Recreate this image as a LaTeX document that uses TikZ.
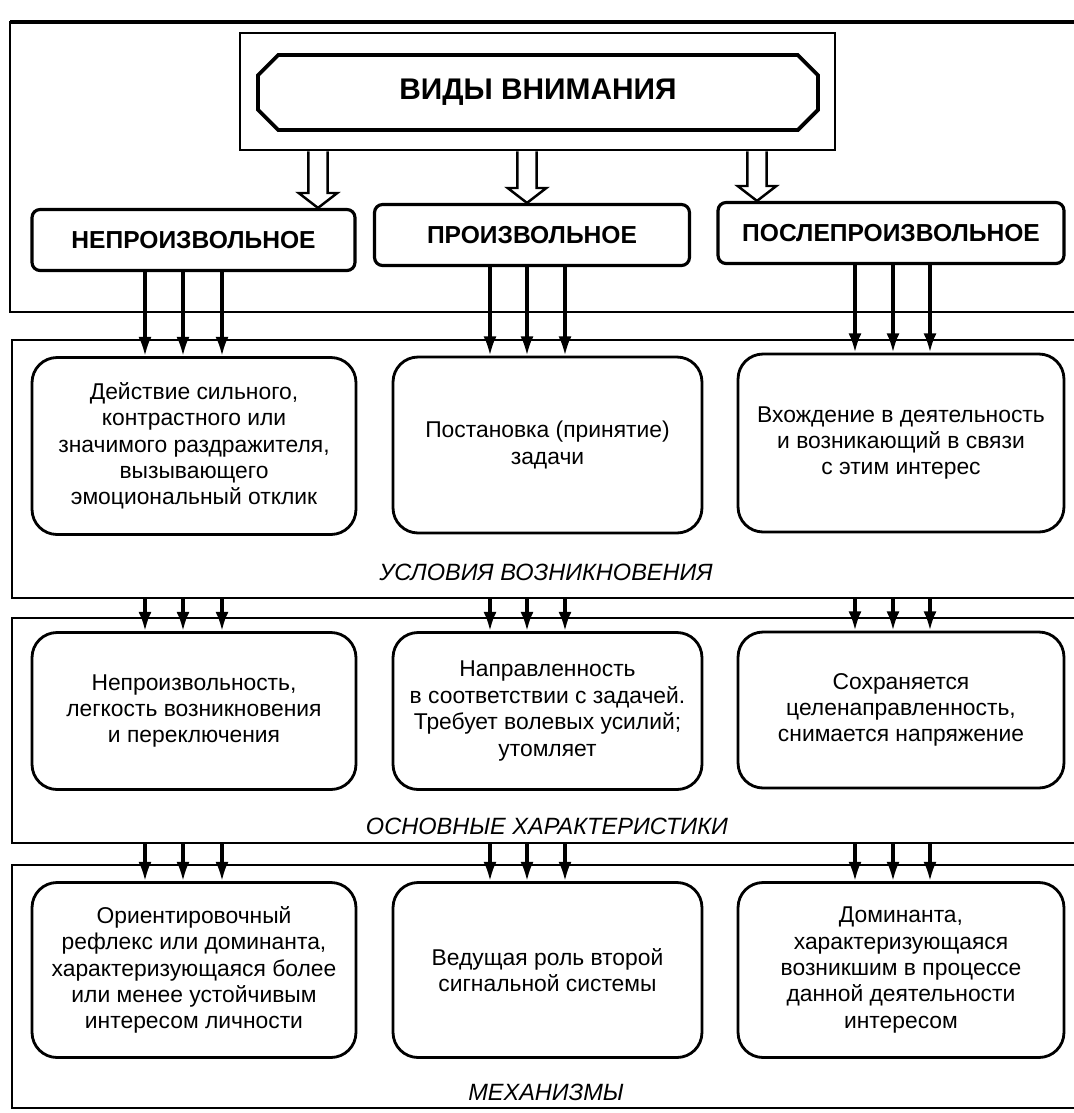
\documentclass[tikz,border=0pt]{standalone}
\usepackage{fontspec}
\setmainfont{Liberation Sans}
\usetikzlibrary{arrows.meta, shapes.misc, calc}

\tikzset{
  kind/.style={draw, line width=1.8pt, rounded corners=0.16cm, minimum height=1.22cm,
    font=\fontsize{14}{16}\selectfont\bfseries},
  cell/.style={draw, line width=1.6pt, rounded corners=0.5cm, align=center,
    font=\fontsize{13}{15}\selectfont},
  caption/.style={font=\fontsize{13.4}{15}\selectfont\itshape},
  panel/.style={line width=1.3pt},
  arr/.style={line width=2pt, -{Latex[length=11pt,width=7.5pt]}},
  hollow/.style={line width=1.4pt, to path={let \p1=(\tikztostart), \p2=(\tikztotarget) in
    (\x1-5.5pt,\y1) -- (\x1-5.5pt,\y2+8.5pt) -- (\x1-11pt,\y2+8.5pt) -- (\x1,\y2)
    -- (\x1+11pt,\y2+8.5pt) -- (\x1+5.5pt,\y2+8.5pt) -- (\x1+5.5pt,\y1)}}
}

\begin{document}
\begin{tikzpicture}[x=0.02cm, y=-0.02cm]
    \useasboundingbox (0,0) rectangle (1074,1113);

    % panels, open to the right
    \draw[panel] (1074,22) -| (10,312) -- (1074,312);
    \draw[panel, line width=1.8pt] (10,22) -- (1074,22);
    \draw[panel] (1074,340) -| (12,598) coordinate (base1) -- (1074,598);
    \draw[panel] (1074,618) -| (12,843) coordinate (base2) -- (1074,843);
    \draw[panel] (1074,865) -| (12,1108) -- (1074,1108);

    % title
    \node[draw, line width=1.6pt, minimum width=11.9cm, minimum height=2.34cm] (frame) at (537.5,91.5) {};
    \node[draw, line width=2.2pt, chamfered rectangle, chamfered rectangle xsep=0.28cm,
      minimum width=11.2cm, minimum height=1.5cm, font=\fontsize{17}{19}\selectfont\bfseries]
      (title) at (538,92.5) {ВИДЫ ВНИМАНИЯ};

    % kinds
    \node[kind, minimum width=6.46cm] (type1) at (193.5,240) {НЕПРОИЗВОЛЬНОЕ};
    \node[kind, minimum width=6.3cm]  (type2) at (532,235) {ПРОИЗВОЛЬНОЕ};
    \node[kind, minimum width=6.92cm] (type3) at (891,233) {ПОСЛЕПРОИЗВОЛЬНОЕ};

    % conditions
    \node[cell, minimum width=6.48cm, minimum height=3.54cm] (cond1) at (194,446)
      {Действие сильного,\\контрастного или\\значимого раздражителя,\\вызывающего\\эмоциональный отклик};
    \node[cell, minimum width=6.18cm, minimum height=3.52cm] (cond2) at (547.5,445)
      {Постановка (принятие)\\задачи};
    \node[cell, minimum width=6.52cm, minimum height=3.56cm] (cond3) at (901,443)
      {Вхождение в деятельность\\и возникающий в связи\\с этим интерес};
    \node[caption] (cap1) at (546,572) {УСЛОВИЯ ВОЗНИКНОВЕНИЯ};

    % features
    \node[cell, minimum width=6.48cm, minimum height=3.14cm] (feat1) at (194,711)
      {Непроизвольность,\\легкость возникновения\\и переключения};
    \node[cell, minimum width=6.18cm, minimum height=3.14cm] (feat2) at (547.5,711)
      {Направленность\\в соответствии с задачей.\\Требует волевых усилий;\\утомляет};
    \node[cell, minimum width=6.52cm, minimum height=3.12cm] (feat3) at (901,710)
      {Сохраняется\\целенаправленность,\\снимается напряжение};
    \node[caption] (cap2) at (547,826) {ОСНОВНЫЕ ХАРАКТЕРИСТИКИ};

    % mechanisms
    \node[cell, minimum width=6.48cm, minimum height=3.5cm] (mech1) at (194,970)
      {Ориентировочный\\рефлекс или доминанта,\\характеризующаяся более\\или менее устойчивым\\интересом личности};
    \node[cell, minimum width=6.18cm, minimum height=3.5cm] (mech2) at (547.5,970)
      {Ведущая роль второй\\сигнальной системы};
    \node[cell, minimum width=6.52cm, minimum height=3.5cm] (mech3) at (901,970)
      {Доминанта,\\характеризующаяся\\возникшим в процессе\\данной деятельности\\интересом};
    \node[caption] (cap3) at (546,1092) {МЕХАНИЗМЫ};

    % connectors
    \foreach \col/\x in {1/318, 2/527, 3/757} {
      \coordinate (xc) at (\x,0);
      \path (frame.south -| xc) coordinate (hs) (type\col.north -| xc) coordinate (ht);
      \draw[hollow] (hs) to (ht);
    }
    \foreach \col/\xs in {1/{145,183,222}, 2/{490,527,565}, 3/{855,893,930}}
      \foreach \x in \xs {
        \coordinate (xc) at (\x,0);
        \draw[arr] (type\col.south -| xc) -- (cond\col.north -| xc);
        \draw[arr] (base1 -| xc) -- (feat\col.north -| xc);
        \draw[arr] (base2 -| xc) -- (mech\col.north -| xc);
      }
\end{tikzpicture}
\end{document}
